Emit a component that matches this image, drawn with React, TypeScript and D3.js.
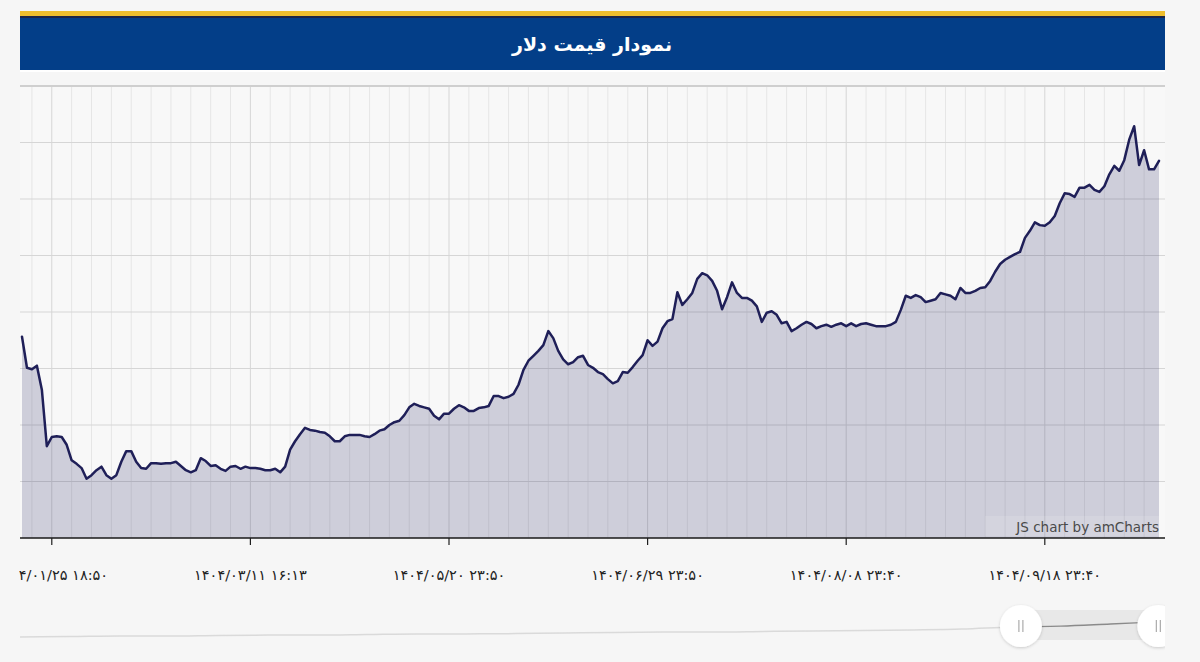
import { useEffect, useRef } from "react";
import * as d3 from "d3";

// dollar price in thousand toman, one value per update
const prices: number[] = [
  102.5, 98.1, 97.9, 98.4, 95.0, 87.0, 88.3, 88.4, 88.3, 87.2,
  85.0, 84.5, 83.9, 82.4, 82.9, 83.6, 84.1, 82.9, 82.4, 82.9,
  84.8, 86.3, 86.3, 84.8, 83.9, 83.8, 84.6, 84.6, 84.5, 84.6,
  84.6, 84.8, 84.2, 83.6, 83.3, 83.6, 85.3, 84.9, 84.2, 84.3,
  83.8, 83.5, 84.1, 84.2, 83.8, 84.1, 83.9, 83.9, 83.8, 83.6,
  83.6, 83.8, 83.3, 84.1, 86.5, 87.7, 88.7, 89.6, 89.3, 89.2,
  89.0, 88.9, 88.4, 87.7, 87.7, 88.4, 88.6, 88.6, 88.6, 88.4,
  88.3, 88.7, 89.2, 89.4, 90.0, 90.4, 90.6, 91.4, 92.5, 93.0,
  92.7, 92.5, 92.3, 91.3, 90.8, 91.6, 91.6, 92.3, 92.8, 92.5,
  92.0, 92.0, 92.4, 92.5, 92.7, 94.1, 94.1, 93.8, 94.0, 94.4,
  95.7, 97.8, 99.1, 99.8, 100.5, 101.3, 103.3, 102.3, 100.5, 99.3,
  98.6, 98.9, 99.6, 99.8, 98.5, 98.1, 97.5, 97.2, 96.5, 95.9,
  96.2, 97.5, 97.4, 98.2, 99.1, 99.9, 102.0, 101.2, 101.8, 103.7,
  104.7, 105.0, 108.8, 107.0, 107.8, 108.7, 110.7, 111.5, 111.2, 110.4,
  109.0, 106.4, 108.1, 110.2, 108.7, 108.0, 108.0, 107.6, 106.8, 104.6,
  105.9, 106.1, 105.6, 104.4, 104.6, 103.3, 103.7, 104.2, 104.6, 104.3,
  103.7, 104.0, 104.2, 103.9, 104.2, 104.4, 104.0, 104.4, 104.0, 104.3,
  104.4, 104.2, 104.0, 104.0, 104.0, 104.2, 104.6, 106.3, 108.3, 108.0,
  108.4, 108.1, 107.4, 107.6, 107.8, 108.7, 108.5, 108.3, 107.8, 109.4,
  108.7, 108.7, 109.0, 109.4, 109.5, 110.4, 111.7, 112.8, 113.4, 113.8,
  114.2, 114.5, 116.5, 117.5, 118.7, 118.3, 118.2, 118.7, 119.6, 121.4,
  122.8, 122.7, 122.3, 123.6, 123.6, 124.0, 123.3, 123.0, 123.8, 125.5,
  126.7, 126.0, 127.5, 130.4, 132.3, 126.8, 128.9, 126.2, 126.2, 127.4,
];

const tickIndexes = [6, 46, 86, 126, 166, 206];
const tickLabels = [
  "۱۴۰۴/۰۱/۲۵ ۱۸:۵۰",
  "۱۴۰۴/۰۳/۱۱ ۱۶:۱۳",
  "۱۴۰۴/۰۵/۲۰ ۲۳:۵۰",
  "۱۴۰۴/۰۶/۲۹ ۲۳:۵۰",
  "۱۴۰۴/۰۸/۰۸ ۲۳:۴۰",
  "۱۴۰۴/۰۹/۱۸ ۲۳:۴۰",
];

// long history shown in the scrollbar
const overviewValues = [
  37, 38, 40, 40, 42, 43, 43, 45, 47, 47, 48, 50,
  52, 53, 53, 55, 57, 58, 60, 63, 70, 73, 80, 87,
];
// scrollbar selection, as fractions of the history
const selection = [0.878, 0.9985];

const title = "نمودار قیمت دلار";

export default function App() {
  const svgRef = useRef<SVGSVGElement>(null);

  useEffect(() => {
    if (!svgRef.current) return;
    const svg = d3.select(svgRef.current);
    svg.selectAll("*").remove();

    const left = 20;
    const right = 1165;
    const top = 86;
    const bottom = 538;
    const font = "'DejaVu Sans', Verdana, sans-serif";

    const defs = svg.append("defs");
    defs.append("clipPath").attr("id", "lbl-clip")
      .append("rect").attr("x", 19).attr("y", 545).attr("width", 1181).attr("height", 50);
    defs.append("clipPath").attr("id", "sb-clip")
      .append("rect").attr("x", left).attr("y", 595).attr("width", right - left).attr("height", 67);
    const shadow = defs.append("filter").attr("id", "grip-shadow")
      .attr("x", "-50%").attr("y", "-50%").attr("width", "200%").attr("height", "200%");
    shadow.append("feDropShadow").attr("dx", 0).attr("dy", 1).attr("stdDeviation", 1.5)
      .attr("flood-color", "#000").attr("flood-opacity", 0.18);

    svg.append("rect").attr("width", 1200).attr("height", 662).attr("fill", "#f6f6f6");

    // header band
    const head = svg.append("g");
    head.append("rect").attr("x", left).attr("y", 11).attr("width", right - left).attr("height", 6).attr("fill", "#efbe2d");
    head.append("rect").attr("x", left).attr("y", 16).attr("width", right - left).attr("height", 2).attr("fill", "#1c2546");
    head.append("rect").attr("x", left).attr("y", 18).attr("width", right - left).attr("height", 52).attr("fill", "#033e88");
    head.append("rect").attr("x", left).attr("y", 70).attr("width", right - left).attr("height", 2).attr("fill", "#ffffff");
    head.append("text")
      .attr("x", 592).attr("y", 51)
      .attr("text-anchor", "middle")
      .attr("fill", "#ffffff")
      .attr("font-family", font)
      .attr("font-size", 19)
      .attr("font-weight", "bold")
      .attr("direction", "rtl")
      .text(title);

    svg.append("rect").attr("x", left).attr("y", top).attr("width", right - left).attr("height", bottom - top).attr("fill", "#f8f8f8");

    const x = d3.scaleLinear().domain([0, prices.length - 1]).range([22, 1159]);
    const y = d3.scaleLinear().domain([74, 138]).range([bottom, top]);

    // grid
    const grid = svg.append("g");
    grid.selectAll(".vg")
      .data(d3.range(2, prices.length, 4))
      .enter()
      .append("line")
      .attr("x1", (d) => x(d)).attr("x2", (d) => x(d))
      .attr("y1", top).attr("y2", bottom)
      .attr("stroke", (d) => (tickIndexes.includes(d) ? "#d6d6d6" : "#e6e6e6"))
      .attr("stroke-width", 1);
    grid.selectAll(".hg")
      .data(d3.range(74, 139, 8))
      .enter()
      .append("line")
      .attr("x1", left).attr("x2", right)
      .attr("y1", (d) => y(d)).attr("y2", (d) => y(d))
      .attr("stroke", (d) => (d === 138 ? "#cfcfcf" : "#d6d6d6"))
      .attr("stroke-width", (d) => (d === 138 ? 2 : 1.2));

    // series
    const area = d3.area<number>()
      .x((_, i) => x(i))
      .y0(bottom)
      .y1((d) => y(d));
    svg.append("path").datum(prices).attr("d", area).attr("fill", "#262666").attr("fill-opacity", 0.2);

    const line = d3.line<number>().x((_, i) => x(i)).y((d) => y(d));
    svg.append("path").datum(prices).attr("d", line)
      .attr("fill", "none").attr("stroke", "#1f1f58").attr("stroke-width", 2.5)
      .attr("stroke-linejoin", "round").attr("stroke-linecap", "round");

    // watermark
    svg.append("rect").attr("x", 985).attr("y", 516).attr("width", 178).attr("height", 20)
      .attr("fill", "#ffffff").attr("fill-opacity", 0.12);
    svg.append("text")
      .attr("x", 1159).attr("y", 532)
      .attr("text-anchor", "end")
      .attr("fill", "#4a4a4a")
      .attr("font-family", font)
      .attr("font-size", 13.5)
      .text("JS chart by amCharts");

    // x axis
    svg.append("line").attr("x1", left).attr("x2", right).attr("y1", bottom).attr("y2", bottom)
      .attr("stroke", "#1e1e1e").attr("stroke-width", 1.6);
    svg.selectAll(".tick")
      .data(tickIndexes)
      .enter()
      .append("line")
      .attr("x1", (d) => x(d)).attr("x2", (d) => x(d))
      .attr("y1", bottom).attr("y2", bottom + 7)
      .attr("stroke", "#1e1e1e").attr("stroke-width", 1.2);
    svg.append("g").attr("clip-path", "url(#lbl-clip)")
      .selectAll("text")
      .data(tickIndexes)
      .enter()
      .append("text")
      .attr("x", (d) => x(d))
      .attr("y", 580)
      .attr("text-anchor", "middle")
      .attr("direction", "ltr")
      .attr("fill", "#222")
      .attr("font-family", font)
      .attr("font-size", 14.5)
      .text((_, i) => tickLabels[i]);

    // scrollbar
    const sx = d3.scaleLinear().domain([0, overviewValues.length - 1]).range([left, 1160]);
    const sy = d3.scaleLinear().domain([0, 140]).range([648, 606]);
    const selX0 = left + selection[0] * (1160 - left);
    const selX1 = left + selection[1] * (1160 - left);
    const sb = svg.append("g").attr("clip-path", "url(#sb-clip)");
    const sline = d3.line<number>().x((_, i) => sx(i)).y((d) => sy(d)).curve(d3.curveMonotoneX);
    sb.append("path").datum(overviewValues).attr("d", sline)
      .attr("fill", "none").attr("stroke", "#dadada").attr("stroke-width", 1.5);
    sb.append("rect").attr("x", selX0).attr("y", 610).attr("width", selX1 - selX0).attr("height", 30)
      .attr("fill", "#e8e8e8");
    defs.append("clipPath").attr("id", "sel-clip")
      .append("rect").attr("x", selX0).attr("y", 600).attr("width", selX1 - selX0).attr("height", 50);
    sb.append("g").attr("clip-path", "url(#sel-clip)")
      .append("path").datum(overviewValues).attr("d", sline)
      .attr("fill", "none").attr("stroke", "#8a8a8a").attr("stroke-width", 1.3);
    [selX0, selX1].forEach((gx) => {
      const g = sb.append("g").attr("transform", `translate(${gx},626)`);
      g.append("circle").attr("r", 21).attr("fill", "#ffffff").attr("filter", "url(#grip-shadow)");
      [-2, 2].forEach((dx) => {
        g.append("line").attr("x1", dx).attr("x2", dx).attr("y1", -6).attr("y2", 6)
          .attr("stroke", "#9a9a9a").attr("stroke-width", 1);
      });
    });

    return () => {
      svg.selectAll("*").remove();
    };
  }, []);

  return (
    <svg
      ref={svgRef}
      width={1200}
      height={662}
      style={{ position: "absolute", left: 0, top: 0, display: "block" }}
    />
  );
}
